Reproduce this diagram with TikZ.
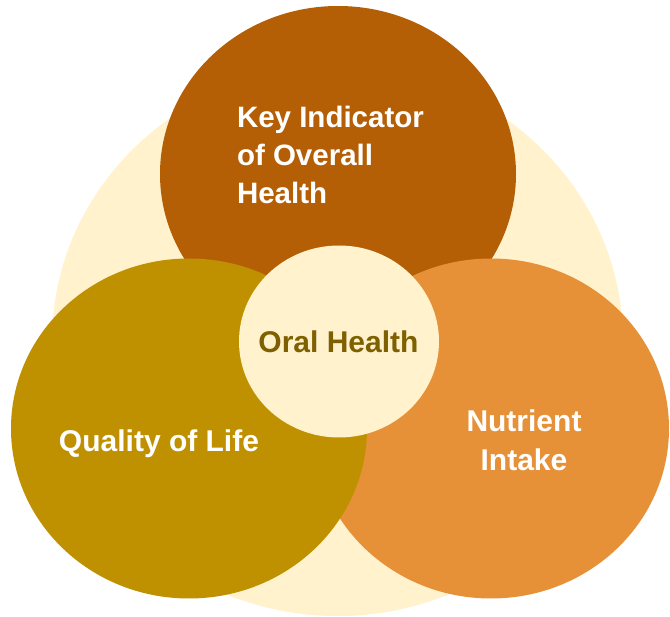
\documentclass[tikz,border=0pt]{standalone}
\usepackage{fontspec}
\setmainfont{Liberation Sans}
\usetikzlibrary{shapes.geometric}

\definecolor{creamfill}{HTML}{FFF2CC}
\definecolor{brownfill}{HTML}{B45F06}
\definecolor{goldfill}{HTML}{BF9000}
\definecolor{orangefill}{HTML}{E69138}
\definecolor{oliveink}{HTML}{7F6000}

\begin{document}
\begin{tikzpicture}[x=1pt,y=-1pt,
  blob/.style={ellipse, inner sep=0pt, outer sep=0pt, draw=none},
  label/.style={inner sep=0pt, outer sep=0pt, text=white,
    font=\fontsize{30}{39}\selectfont\bfseries}]

% canvas
\fill[white] (0,0) rectangle (670,617);
\useasboundingbox (0,0) rectangle (670,617);

% backdrop and the four overlapping ellipses
\node[blob, fill=creamfill, minimum width=571pt, minimum height=550pt] (back) at (337.5,341) {};
\node[blob, fill=brownfill, minimum width=356pt, minimum height=336pt] (top) at (338,174) {};
\node[blob, fill=orangefill, minimum width=356pt, minimum height=340pt] (right) at (491,428.5) {};
\node[blob, fill=goldfill, minimum width=356pt, minimum height=340pt] (left) at (189,428.5) {};
\node[blob, fill=creamfill, minimum width=200pt, minimum height=192pt] (core) at (339,341.5) {};

% labels (a multi-line node sits on the baseline of its last line)
\node[label, anchor=base west, align=left,
  font=\fontsize{29.5}{38}\selectfont\bfseries] (toplabel) at (237,204)
  {Key Indicator\\of Overall\\Health};
\node[label, anchor=base, text=oliveink] (corelabel) at (338.5,353) {Oral Health};
\node[label, anchor=base] (leftlabel) at (159,452) {Quality of Life};
\node[label, anchor=base, align=center] (rightlabel) at (524,471) {Nutrient\\Intake};
\end{tikzpicture}
\end{document}
